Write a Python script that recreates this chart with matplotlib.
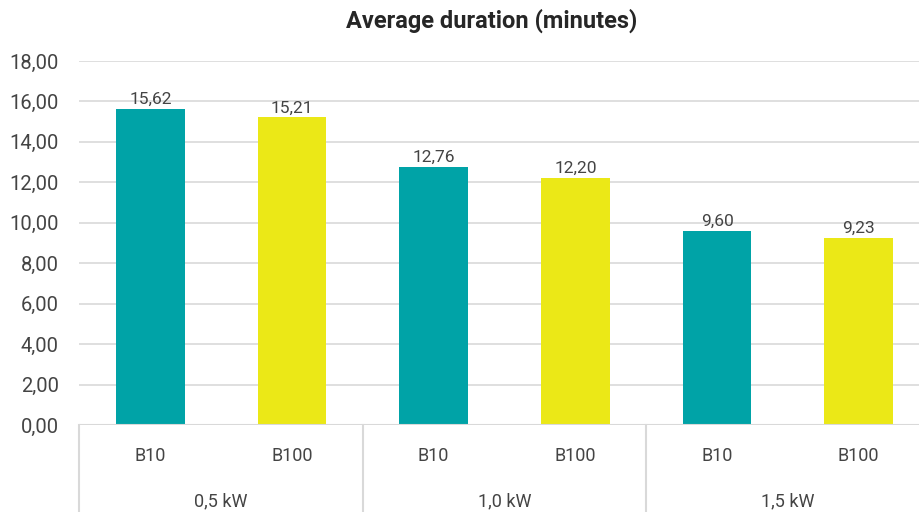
import numpy as np
import matplotlib
matplotlib.use("Agg")
import matplotlib.pyplot as plt
from matplotlib.ticker import FuncFormatter

plt.rcParams["font.family"] = ["Roboto", "DejaVu Sans"]

powers = ["0,5 kW", "1,0 kW", "1,5 kW"]
fuels = ["B10", "B100"]
b10 = [15.62, 12.76, 9.60]
b100 = [15.21, 12.20, 9.23]
yticks = np.arange(0, 20, 2)

teal = "#00A3A7"
yellow = "#EBE817"
txt = "#444444"
grid = "#D9D9D9"

fig = plt.figure(figsize=(9.2, 5.12), dpi=100)
ax = fig.add_axes([79.5 / 920, 1 - 425 / 512, 850 / 920, 364 / 512])

vals = []
cols = []
labels = []
for i in range(len(powers)):
    vals += [b10[i], b100[i]]
    cols += [teal, yellow]
    labels += fuels
x = np.arange(len(vals))

bars = ax.bar(x, vals, width=0.486, color=cols, zorder=3)
for b, v in zip(bars, vals):
    ax.annotate(f"{v:.2f}".replace(".", ","), (b.get_x() + b.get_width() / 2, v),
                xytext=(0, 1.5), textcoords="offset points", ha="center", va="bottom",
                fontsize=12.5, color=txt)

ax.set_ylim(0, 18)
ax.set_xlim(-0.5, len(vals) - 0.5)
ax.set_yticks(yticks)
ax.yaxis.set_major_formatter(FuncFormatter(lambda v, p: f"{v:.2f}".replace(".", ",")))
ax.tick_params(axis="y", length=0, pad=15, labelsize=14.5, labelcolor=txt)
ax.set_xticks([])
ax.grid(axis="y", color=grid, linewidth=1.2, zorder=0)
for s in ax.spines.values():
    s.set_visible(False)
ax.axhline(0, color=grid, linewidth=1.5, zorder=4)

# two-level category axis
tr = ax.get_xaxis_transform()
for xi, lab in zip(x, labels):
    ax.text(xi, -0.085, lab, transform=tr, ha="center", va="center", fontsize=13, color=txt)
for i, p in enumerate(powers):
    ax.text(2 * i + 0.5, -0.21, p, transform=tr, ha="center", va="center", fontsize=13, color=txt)
for bx in np.arange(-0.5, len(vals), 2):
    ax.plot([bx, bx], [0, -0.3], transform=tr, color=grid, linewidth=1.5, clip_on=False)

fig.text(492 / 920, 1 - 21 / 512, "Average duration (minutes)", ha="center", va="center",
         fontsize=17, fontweight="bold", color="#262626")

fig.savefig("out.png", dpi=100)
